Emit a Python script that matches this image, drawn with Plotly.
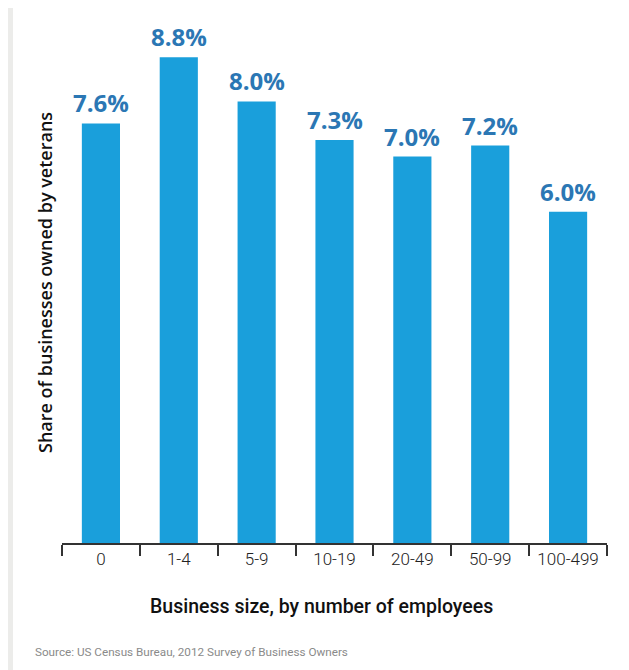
import plotly.graph_objects as go

categories = ["0", "1-4", "5-9", "10-19", "20-49", "50-99", "100-499"]
shares = [7.6, 8.8, 8.0, 7.3, 7.0, 7.2, 6.0]
y_title = "Share of businesses owned by veterans"
x_title = "Business size, by number of employees"
source = "Source: US Census Bureau, 2012 Survey of Business Owners"

# the page body adds an 8px margin, so the figure is drawn 8px smaller
OFF = 8
W, H = 629 - OFF, 670 - OFF
L, R, T, B = 62 - OFF, 22, 30 - OFF, 127
pw, ph = W - L - R, H - T - B

def px_x(p):
    return (p - OFF - L) / pw

def px_y(p):
    return (H - B - (p - OFF)) / ph

fig = go.Figure()
fig.add_trace(go.Bar(
    x=categories, y=shares,
    marker=dict(color="#1a9fdb", line=dict(width=0)),
    hoverinfo="skip",
))

for c, v in zip(categories, shares):
    fig.add_annotation(
        x=c, y=v, xref="x", yref="y", text=f"{v:.1f}%", showarrow=False,
        yanchor="bottom", yshift=2,
        font=dict(family="Open Sans", size=24, color="#2b77b4", weight="bold"),
    )

fig.add_annotation(
    x=px_x(45), y=px_y(283), xref="paper", yref="paper", text=y_title,
    textangle=-90, showarrow=False, xanchor="center", yanchor="middle",
    font=dict(family="Open Sans", size=18, color="#111111", weight=600),
)
fig.add_annotation(
    x=px_x(321), y=px_y(606), xref="paper", yref="paper", text=x_title,
    showarrow=False, xanchor="center", yanchor="middle",
    font=dict(family="Roboto", size=19.5, color="#111111", weight=500),
)
fig.add_annotation(
    x=px_x(33), y=px_y(652), xref="paper", yref="paper", text=source,
    showarrow=False, xanchor="left", yanchor="middle",
    font=dict(family="Roboto", size=11.7, color="#8a8a8a"),
)

fig.add_shape(
    type="rect", xref="paper", yref="paper", layer="below",
    x0=px_x(13), x1=px_x(629 + 10), y0=px_y(670 + 10), y1=px_y(6),
    fillcolor="white", line=dict(width=0),
)

fig.update_layout(
    width=W, height=H,
    margin=dict(l=L, r=R, t=T, b=B),
    paper_bgcolor="#ececea",
    plot_bgcolor="rgba(0,0,0,0)",
    bargap=0.51,
    showlegend=False,
    xaxis=dict(
        showline=True, linecolor="#333333", linewidth=1.5,
        ticks="outside", ticklen=11, tickwidth=1.5, tickcolor="#333333",
        tickson="boundaries",
        tickfont=dict(family="Roboto", size=17, color="#222222", weight=300),
        showgrid=False, zeroline=False, fixedrange=True,
    ),
    yaxis=dict(
        range=[0, (H - B - T) / 55.2], visible=False, showgrid=False,
        zeroline=False, fixedrange=True,
    ),
)

fig.write_html("out.html")
